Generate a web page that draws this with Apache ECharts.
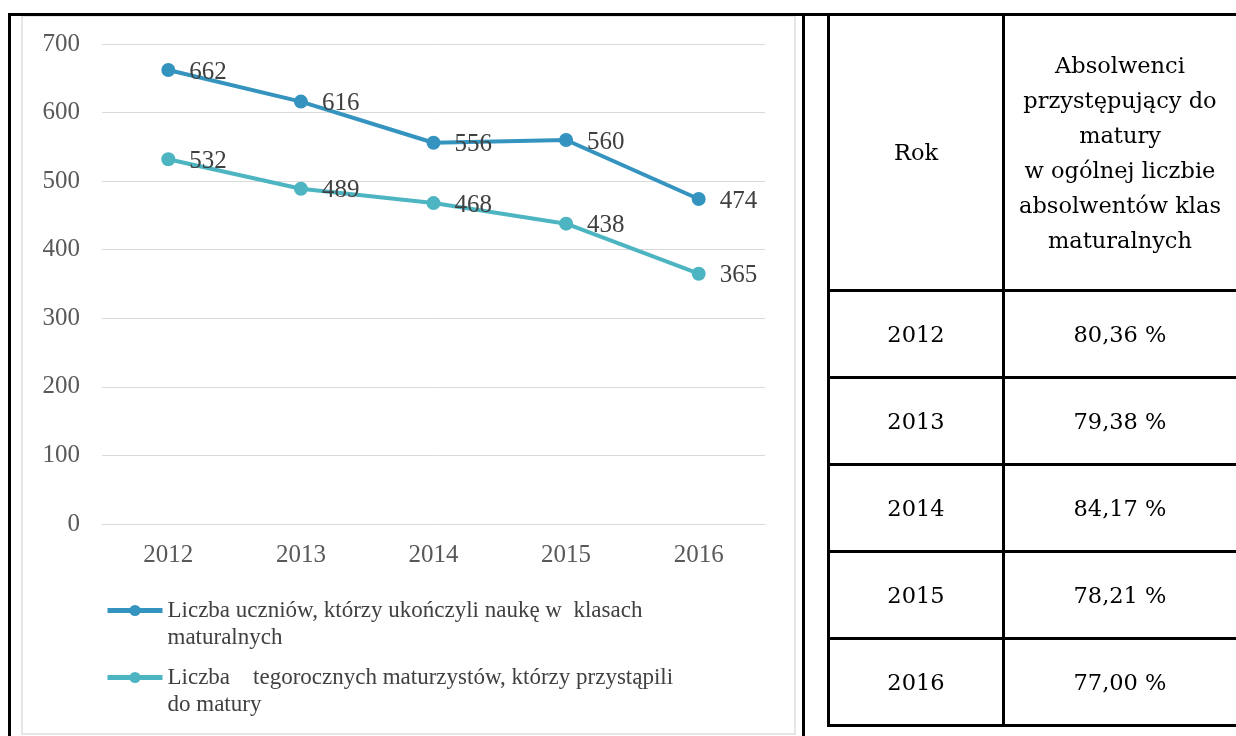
<!DOCTYPE html>
<html lang="pl">
<head>
<meta charset="utf-8">
<title>Absolwenci 2012-2016</title>
<script src="https://cdn.jsdelivr.net/npm/echarts@6/dist/echarts.min.js"></script>
<style>
  html, body {
    margin: 0;
    padding: 0;
    width: 1236px;
    height: 736px;
    overflow: hidden;
    background: #ffffff;
  }
  #chart-box {
    position: absolute;
    left: 0;
    top: 0;
    width: 803px;
    height: 736px;
  }
  .line {
    position: absolute;
    background: #000;
  }
  .inner-frame {
    position: absolute;
    left: 21px;
    top: 16px;
    width: 771px;
    height: 716px;
    border: 2px solid #e6e6e6;
    border-top-width: 1px;
  }
  #share-table {
    position: absolute;
    left: 827px;
    top: 13px;
    width: 430px;
    table-layout: fixed;
    border-collapse: collapse;
    font-family: 'DejaVu Serif', serif;
    font-size: 22.5px;
    color: #000;
  }
  #share-table td {
    border: 3px solid #000;
    text-align: center;
    vertical-align: middle;
    padding: 0;
  }
  #share-table td.wide {
    padding-right: 22px;
  }
  #share-table tr.head td {
    height: 273px;
    line-height: 35px;
  }
  #share-table tr.row td {
    height: 84px;
  }
</style>
</head>
<body>
<div class="inner-frame"></div>
<div id="chart-box"></div>
<div class="line" style="left:8px;top:13px;width:1228px;height:3px;"></div>
<div class="line" style="left:8px;top:13px;width:3px;height:723px;"></div>
<div class="line" style="left:802px;top:13px;width:3px;height:723px;"></div>
<table id="share-table"></table>

<script>
// dane wykresu
const years = ['2012', '2013', '2014', '2015', '2016'];
const graduates = [662, 616, 556, 560, 474];
const examTakers = [532, 489, 468, 438, 365];
const graduatesName = 'Liczba uczniów, którzy ukończyli naukę w  klasach\nmaturalnych';
const examTakersName = 'Liczba    tegorocznych maturzystów, którzy przystąpili\ndo matury';

// dane tabeli
const tableHead = ['Rok', 'Absolwenci<br>przystępujący do<br>matury<br>w ogólnej liczbie<br>absolwentów klas<br>maturalnych'];
const tableYears = ['2012', '2013', '2014', '2015', '2016'];
const tableShares = ['80,36 %', '79,38 %', '84,17 %', '78,21 %', '77,00 %'];

function renderTable() {
  let html = '<colgroup><col style="width:175px"><col style="width:255px"></colgroup>';
  html += '<tr class="head"><td>' + tableHead[0] + '</td><td class="wide">' + tableHead[1] + '</td></tr>';
  tableYears.forEach((y, i) => {
    html += '<tr class="row"><td>' + y + '</td><td class="wide">' + tableShares[i] + '</td></tr>';
  });
  document.getElementById('share-table').innerHTML = html;
}

function renderChart() {
  const myEchart = echarts.init(document.getElementById('chart-box'));
  const font = "'Liberation Serif', serif";

  const legendText = {
    fontFamily: font,
    fontSize: 23,
    color: '#404040',
    lineHeight: 27
  };

  // pusta linia nad nazwą, żeby ikona stała przy pierwszym wierszu
  const legendBase = {
    left: 105,
    padding: 0,
    itemWidth: 55,
    itemHeight: 14,
    selectedMode: false,
    lineStyle: { width: 5 },
    textStyle: legendText,
    formatter: (name) => ' \n' + name
  };

  const labelStyle = {
    show: true,
    position: 'right',
    distance: 14,
    offset: [0, 2],
    color: '#404040',
    fontFamily: font,
    fontSize: 25
  };

  const optionData = {
    animation: false,
    color: ['#3494bf', '#4db5c2'],
    grid: {
      left: 102,
      right: 38,
      top: 44,
      bottom: 212
    },
    legend: [
      Object.assign({}, legendBase, { data: [graduatesName], top: 570 }),
      Object.assign({}, legendBase, { data: [examTakersName], top: 637 })
    ],
    xAxis: {
      type: 'category',
      data: years,
      axisLine: { lineStyle: { color: '#d9d9d9', width: 1 } },
      axisTick: { show: false },
      axisLabel: { color: '#595959', fontFamily: font, fontSize: 25, margin: 19 }
    },
    yAxis: {
      type: 'value',
      min: 0,
      max: 700,
      interval: 100,
      axisLine: { show: false },
      axisTick: { show: false },
      axisLabel: { color: '#595959', fontFamily: font, fontSize: 25, margin: 22 },
      splitLine: { lineStyle: { color: '#d9d9d9', width: 1 } }
    },
    series: [
      {
        type: 'line',
        name: graduatesName,
        data: graduates,
        symbol: 'circle',
        symbolSize: 14,
        lineStyle: { width: 4 },
        label: labelStyle
      },
      {
        type: 'line',
        name: examTakersName,
        data: examTakers,
        symbol: 'circle',
        symbolSize: 14,
        lineStyle: { width: 4 },
        label: labelStyle
      }
    ]
  };

  myEchart.setOption(optionData);
}

renderTable();
renderChart();
</script>
</body>
</html>
